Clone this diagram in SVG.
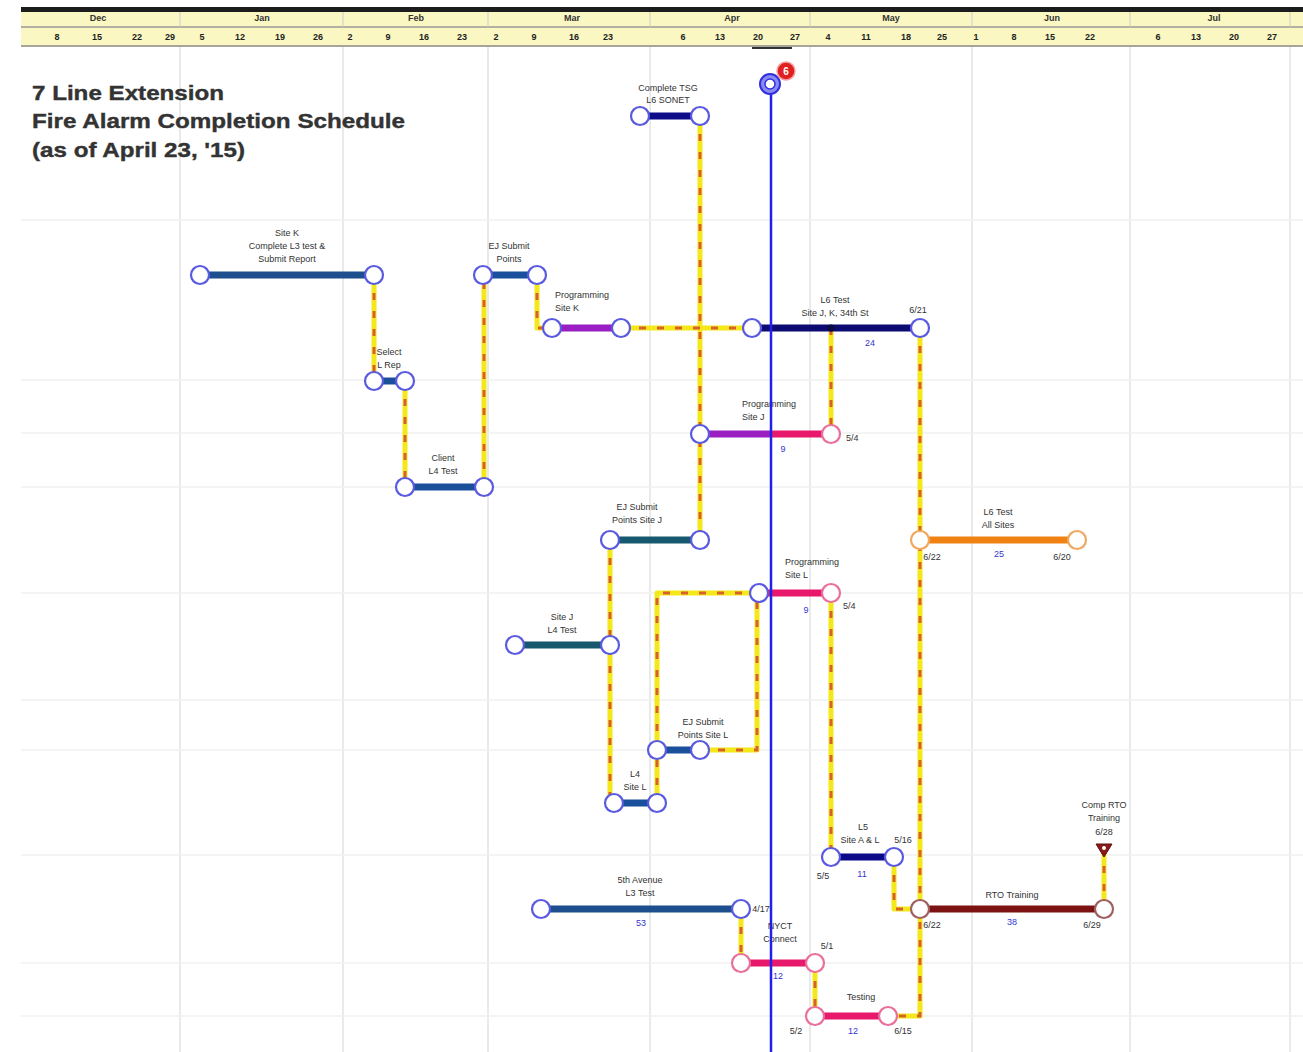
<svg xmlns="http://www.w3.org/2000/svg" width="1303" height="1052" viewBox="0 0 1303 1052">
<style>
.grid{stroke:#dcdcdc;stroke-width:1.2}
.hgrid{stroke:#f1f1f1;stroke-width:1.5}
.mo{font:bold 9px "Liberation Sans",Arial,sans-serif;fill:#333;text-anchor:middle}
.dy{font:bold 9px "Liberation Sans",Arial,sans-serif;fill:#222;text-anchor:middle}
.title{font:bold 21px "Liberation Sans",Arial,sans-serif;fill:#333;stroke:#333;stroke-width:0.4}
.lb{font:9px "Liberation Sans",Arial,sans-serif;fill:#333;text-anchor:middle}
.lbl{font:9px "Liberation Sans",Arial,sans-serif;fill:#333}
.dur{font:9px "Liberation Sans",Arial,sans-serif;fill:#3535d0;text-anchor:middle}
.cy{fill:none;stroke:#f4e81a;stroke-width:5;stroke-linejoin:round}
.cr{fill:none;stroke:#d8602a;stroke-width:3;stroke-dasharray:7 11}
.bar{stroke-width:7;stroke-linecap:butt}
.nd{fill:#fff;stroke:#5a5ae0;stroke-width:2.2}
.pk{fill:#fff;stroke:#e8709a;stroke-width:2.2}
.or{fill:#fff;stroke:#f0a860;stroke-width:2.2}
.br{fill:#fff;stroke:#a06060;stroke-width:2.2}
</style>
<rect width="1303" height="1052" fill="#fff"/>
<!-- header -->
<g id="timescale">
<rect x="21" y="7" width="1282" height="5" fill="#1c1c1c"/>
<rect x="21" y="12" width="1282" height="35" fill="#faf7c2"/>
<line x1="21" y1="27" x2="1303" y2="27" stroke="#999" stroke-width="1.5"/>
<line x1="21" y1="46" x2="1303" y2="46" stroke="#888" stroke-width="1.5"/>
<g stroke="#ccc" stroke-width="1">
<line x1="180" y1="12" x2="180" y2="27"/><line x1="343" y1="12" x2="343" y2="27"/><line x1="488" y1="12" x2="488" y2="27"/><line x1="650" y1="12" x2="650" y2="27"/><line x1="810" y1="12" x2="810" y2="27"/><line x1="972" y1="12" x2="972" y2="27"/><line x1="1130" y1="12" x2="1130" y2="27"/><line x1="1290" y1="12" x2="1290" y2="27"/>
</g>
<text class="mo" x="98" y="21">Dec</text><text class="mo" x="262" y="21">Jan</text><text class="mo" x="416" y="21">Feb</text><text class="mo" x="572" y="21">Mar</text><text class="mo" x="732" y="21">Apr</text><text class="mo" x="891" y="21">May</text><text class="mo" x="1052" y="21">Jun</text><text class="mo" x="1214" y="21">Jul</text>
<text class="dy" x="57" y="40">8</text><text class="dy" x="97" y="40">15</text><text class="dy" x="137" y="40">22</text><text class="dy" x="170" y="40">29</text>
<text class="dy" x="202" y="40">5</text><text class="dy" x="240" y="40">12</text><text class="dy" x="280" y="40">19</text><text class="dy" x="318" y="40">26</text>
<text class="dy" x="350" y="40">2</text><text class="dy" x="388" y="40">9</text><text class="dy" x="424" y="40">16</text><text class="dy" x="462" y="40">23</text>
<text class="dy" x="496" y="40">2</text><text class="dy" x="534" y="40">9</text><text class="dy" x="574" y="40">16</text><text class="dy" x="608" y="40">23</text>
<text class="dy" x="683" y="40">6</text><text class="dy" x="720" y="40">13</text><text class="dy" x="758" y="40">20</text><text class="dy" x="795" y="40">27</text>
<text class="dy" x="828" y="40">4</text><text class="dy" x="866" y="40">11</text><text class="dy" x="906" y="40">18</text><text class="dy" x="942" y="40">25</text>
<text class="dy" x="976" y="40">1</text><text class="dy" x="1014" y="40">8</text><text class="dy" x="1050" y="40">15</text><text class="dy" x="1090" y="40">22</text>
<text class="dy" x="1158" y="40">6</text><text class="dy" x="1196" y="40">13</text><text class="dy" x="1234" y="40">20</text><text class="dy" x="1272" y="40">27</text>
</g>
<!-- grid -->
<g id="grid">
<g class="grid">
<line x1="180" y1="47" x2="180" y2="1052"/><line x1="343" y1="47" x2="343" y2="1052"/><line x1="488" y1="47" x2="488" y2="1052"/><line x1="650" y1="47" x2="650" y2="1052"/><line x1="810" y1="47" x2="810" y2="1052"/><line x1="972" y1="47" x2="972" y2="1052"/><line x1="1130" y1="47" x2="1130" y2="1052"/><line x1="1290" y1="47" x2="1290" y2="1052"/>
</g>
<g class="hgrid">
<line x1="21" y1="220" x2="1303" y2="220"/><line x1="21" y1="380" x2="1303" y2="380"/><line x1="21" y1="433" x2="1303" y2="433"/><line x1="21" y1="487" x2="1303" y2="487"/><line x1="21" y1="593" x2="1303" y2="593"/><line x1="21" y1="700" x2="1303" y2="700"/><line x1="21" y1="750" x2="1303" y2="750"/><line x1="21" y1="855" x2="1303" y2="855"/><line x1="21" y1="963" x2="1303" y2="963"/><line x1="21" y1="1016" x2="1303" y2="1016"/>
</g>
</g>
<!-- title -->
<g id="title">
<text class="title" x="32" y="100" textLength="192" lengthAdjust="spacingAndGlyphs">7 Line Extension</text>
<text class="title" x="32" y="128" textLength="373" lengthAdjust="spacingAndGlyphs">Fire Alarm Completion Schedule</text>
<text class="title" x="32" y="157" textLength="213" lengthAdjust="spacingAndGlyphs">(as of April 23, '15)</text>
</g>
<!-- connectors -->
<defs>
<path id="p1" d="M700,116 V540"/>
<path id="p2" d="M374,275 V381"/>
<path id="p3" d="M405,381 V487"/>
<path id="p4" d="M484,487 V275"/>
<path id="p5" d="M537,275 V328 H552"/>
<path id="p6" d="M621,328 H752"/>
<path id="p7" d="M831,328 V434"/>
<path id="p8" d="M920,328 V1016 H888"/>
<path id="p9" d="M610,540 V803"/>
<path id="p10" d="M657,803 V593 H759"/>
<path id="p11" d="M700,750 H757 V593"/>
<path id="p12" d="M831,593 V857"/>
<path id="p13" d="M894,857 V909 H920"/>
<path id="p14" d="M1104,909 V852"/>
<path id="p15" d="M741,909 V963"/>
<path id="p16" d="M815,963 V1016"/>
</defs>
<g id="connectors">
<g class="cy"><use href="#p1"/><use href="#p2"/><use href="#p3"/><use href="#p4"/><use href="#p5"/><use href="#p6"/><use href="#p7"/><use href="#p8"/><use href="#p9"/><use href="#p10"/><use href="#p11"/><use href="#p12"/><use href="#p13"/><use href="#p14"/><use href="#p15"/><use href="#p16"/></g>
<g class="cr"><use href="#p1"/><use href="#p2"/><use href="#p3"/><use href="#p4"/><use href="#p5"/><use href="#p6"/><use href="#p7"/><use href="#p8"/><use href="#p9"/><use href="#p10"/><use href="#p11"/><use href="#p12"/><use href="#p13"/><use href="#p14"/><use href="#p15"/><use href="#p16"/></g>
</g>
<!-- tasks -->
<g id="t-tsg">
<line class="bar" x1="640" y1="116" x2="700" y2="116" stroke="#0d0d8a"/>
<circle class="nd" cx="640" cy="116" r="9"/><circle class="nd" cx="700" cy="116" r="9"/>
<text class="lb" x="668" y="91">Complete TSG</text><text class="lb" x="668" y="103">L6 SONET</text>
</g>
<g id="t-sitek-l3">
<line class="bar" x1="200" y1="275" x2="374" y2="275" stroke="#1d4f8e"/>
<circle class="nd" cx="200" cy="275" r="9"/><circle class="nd" cx="374" cy="275" r="9"/>
<text class="lb" x="287" y="236">Site K</text><text class="lb" x="287" y="249">Complete L3 test &amp;</text><text class="lb" x="287" y="262">Submit Report</text>
</g>
<g id="t-ej-points">
<line class="bar" x1="483" y1="275" x2="537" y2="275" stroke="#1a4f9c"/>
<circle class="nd" cx="483" cy="275" r="9"/><circle class="nd" cx="537" cy="275" r="9"/>
<text class="lb" x="509" y="249">EJ Submit</text><text class="lb" x="509" y="262">Points</text>
</g>
<g id="t-prog-k">
<line class="bar" x1="552" y1="328" x2="621" y2="328" stroke="#9a1ec2"/>
<circle class="nd" cx="552" cy="328" r="9"/><circle class="nd" cx="621" cy="328" r="9"/>
<text class="lbl" x="555" y="298">Programming</text><text class="lbl" x="555" y="311">Site K</text>
</g>
<g id="t-select">
<line class="bar" x1="374" y1="381" x2="405" y2="381" stroke="#1a4f9c"/>
<circle class="nd" cx="374" cy="381" r="9"/><circle class="nd" cx="405" cy="381" r="9"/>
<text class="lb" x="389" y="355">Select</text><text class="lb" x="389" y="368">L Rep</text>
</g>
<g id="t-client">
<line class="bar" x1="405" y1="487" x2="484" y2="487" stroke="#1a4f9c"/>
<circle class="nd" cx="405" cy="487" r="9"/><circle class="nd" cx="484" cy="487" r="9"/>
<text class="lb" x="443" y="461">Client</text><text class="lb" x="443" y="474">L4 Test</text>
</g>
<g id="t-l6-jk">
<line class="bar" x1="752" y1="328" x2="920" y2="328" stroke="#0b0b72"/>
<circle class="nd" cx="752" cy="328" r="9"/><circle class="nd" cx="920" cy="328" r="9"/>
<circle cx="831" cy="328" r="3.5" fill="#0b0b40"/>
<text class="lb" x="835" y="303">L6 Test</text><text class="lb" x="835" y="316">Site J, K, 34th St</text>
<text class="lb" x="918" y="313">6/21</text><text class="dur" x="870" y="346">24</text>
</g>
<g id="t-prog-j">
<line class="bar" x1="700" y1="434" x2="771" y2="434" stroke="#9a1ec2"/>
<line class="bar" x1="771" y1="434" x2="831" y2="434" stroke="#e8186c"/>
<circle class="nd" cx="700" cy="434" r="9"/><circle class="pk" cx="831" cy="434" r="9"/>
<text class="lbl" x="742" y="407">Programming</text><text class="lbl" x="742" y="420">Site J</text>
<text class="lbl" x="846" y="441">5/4</text><text class="dur" x="783" y="452">9</text>
</g>
<g id="t-ej-j">
<line class="bar" x1="610" y1="540" x2="700" y2="540" stroke="#16596e"/>
<circle class="nd" cx="610" cy="540" r="9"/><circle class="nd" cx="700" cy="540" r="9"/>
<text class="lb" x="637" y="510">EJ Submit</text><text class="lb" x="637" y="523">Points Site J</text>
</g>
<g id="t-l6-all">
<line class="bar" x1="920" y1="540" x2="1077" y2="540" stroke="#f08214"/>
<circle class="or" cx="920" cy="540" r="9"/><circle class="or" cx="1077" cy="540" r="9"/>
<text class="lb" x="998" y="515">L6 Test</text><text class="lb" x="998" y="528">All Sites</text>
<text class="lb" x="932" y="560">6/22</text><text class="dur" x="999" y="557">25</text><text class="lb" x="1062" y="560">6/20</text>
</g>
<g id="t-prog-l">
<line class="bar" x1="759" y1="593" x2="831" y2="593" stroke="#e8186c"/>
<circle class="nd" cx="759" cy="593" r="9"/><circle class="pk" cx="831" cy="593" r="9"/>
<text class="lbl" x="785" y="565">Programming</text><text class="lbl" x="785" y="578">Site L</text>
<text class="lbl" x="843" y="609">5/4</text><text class="dur" x="806" y="613">9</text>
</g>
<g id="t-sitej-l4">
<line class="bar" x1="515" y1="645" x2="610" y2="645" stroke="#16596e"/>
<circle class="nd" cx="515" cy="645" r="9"/><circle class="nd" cx="610" cy="645" r="9"/>
<text class="lb" x="562" y="620">Site J</text><text class="lb" x="562" y="633">L4 Test</text>
</g>
<g id="t-ej-l">
<line class="bar" x1="657" y1="750" x2="700" y2="750" stroke="#1a4f9c"/>
<circle class="nd" cx="657" cy="750" r="9"/><circle class="nd" cx="700" cy="750" r="9"/>
<text class="lb" x="703" y="725">EJ Submit</text><text class="lb" x="703" y="738">Points Site L</text>
</g>
<g id="t-l4-l">
<line class="bar" x1="614" y1="803" x2="657" y2="803" stroke="#1a4f9c"/>
<circle class="nd" cx="614" cy="803" r="9"/><circle class="nd" cx="657" cy="803" r="9"/>
<text class="lb" x="635" y="777">L4</text><text class="lb" x="635" y="790">Site L</text>
</g>
<g id="t-l5">
<line class="bar" x1="831" y1="857" x2="894" y2="857" stroke="#0b0b8a"/>
<circle class="nd" cx="831" cy="857" r="9"/><circle class="nd" cx="894" cy="857" r="9"/>
<text class="lb" x="863" y="830">L5</text><text class="lb" x="860" y="843">Site A &amp; L</text><text class="lb" x="903" y="843">5/16</text>
<text class="lb" x="823" y="879">5/5</text><text class="dur" x="862" y="877">11</text>
</g>
<g id="t-comp-rto">
<polygon points="1096,844 1112,844 1104,857" fill="#8a1a1a" stroke="#5a1010" stroke-width="1"/>
<circle cx="1104" cy="848" r="2" fill="#fff"/>
<text class="lb" x="1104" y="808">Comp RTO</text><text class="lb" x="1104" y="821">Training</text><text class="lb" x="1104" y="835">6/28</text>
</g>
<g id="t-rto">
<line class="bar" x1="920" y1="909" x2="1104" y2="909" stroke="#7c1212"/>
<circle class="br" cx="920" cy="909" r="9"/><circle class="br" cx="1104" cy="909" r="9"/>
<text class="lb" x="1012" y="898">RTO Training</text>
<text class="lb" x="932" y="928">6/22</text><text class="dur" x="1012" y="925">38</text><text class="lb" x="1092" y="928">6/29</text>
</g>
<g id="t-5th">
<line class="bar" x1="541" y1="909" x2="741" y2="909" stroke="#1d4f8e"/>
<circle class="nd" cx="541" cy="909" r="9"/><circle class="nd" cx="741" cy="909" r="9"/>
<text class="lb" x="640" y="883">5th Avenue</text><text class="lb" x="640" y="896">L3 Test</text>
<text class="lb" x="761" y="912">4/17</text><text class="dur" x="641" y="926">53</text>
</g>
<g id="t-nyct">
<line class="bar" x1="741" y1="963" x2="815" y2="963" stroke="#e8186c"/>
<circle class="pk" cx="741" cy="963" r="9"/><circle class="pk" cx="815" cy="963" r="9"/>
<text class="lb" x="780" y="929">NYCT</text><text class="lb" x="780" y="942">Connect</text>
<text class="lb" x="827" y="949">5/1</text><text class="dur" x="778" y="979">12</text>
</g>
<g id="t-testing">
<line class="bar" x1="815" y1="1016" x2="888" y2="1016" stroke="#e8186c"/>
<circle class="pk" cx="815" cy="1016" r="9"/><circle class="pk" cx="888" cy="1016" r="9"/>
<text class="lb" x="861" y="1000">Testing</text>
<text class="lb" x="796" y="1034">5/2</text><text class="dur" x="853" y="1034">12</text><text class="lb" x="903" y="1034">6/15</text>
</g>
<!-- status date line -->
<g id="status-date">
<line x1="771" y1="75" x2="771" y2="1052" stroke="#2020ee" stroke-width="2.5"/>
<line x1="752" y1="48" x2="792" y2="48" stroke="#333" stroke-width="2"/>
<circle cx="770" cy="84" r="10" fill="#8a8af0" stroke="#3030e0" stroke-width="2"/>
<circle cx="770" cy="84" r="5" fill="#fff" stroke="#3030e0" stroke-width="1.5"/>
<circle cx="786" cy="71" r="9" fill="#e02020" stroke="#f4a0a0" stroke-width="1.5"/>
<text x="786" y="75" font-family="Liberation Sans, Arial, sans-serif" font-size="10" font-weight="bold" fill="#fff" text-anchor="middle">6</text>
</g>
</svg>
